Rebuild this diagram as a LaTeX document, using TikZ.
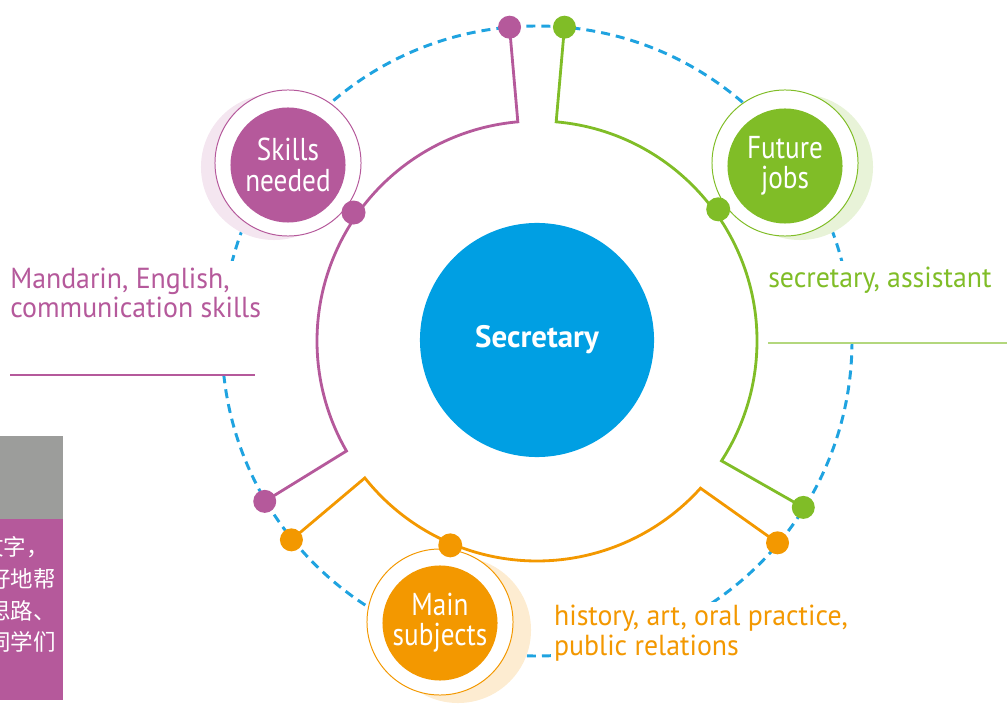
\documentclass[tikz,border=0pt]{standalone}
\usepackage{fontspec}
\setmainfont{PT Sans}[FakeStretch=0.96]
\newfontfamily\bubblefont{PT Sans}[FakeStretch=0.86]
\newfontfamily\hubfont{PT Sans}
\newfontfamily\cjkfont{Noto Sans CJK SC}
\usepackage{tikz}
\usetikzlibrary{calc}
\pgfdeclarelayer{background}
\pgfsetlayers{background,main}

\definecolor{skillpurple}{HTML}{B5599B}
\definecolor{jobgreen}{HTML}{80BD27}
\definecolor{subjorange}{HTML}{F39800}
\definecolor{secblue}{HTML}{009FE3}
\definecolor{ringblue}{HTML}{1FA3E0}
\definecolor{panelgray}{HTML}{9C9D9B}

\begin{document}
\begin{tikzpicture}[x=0.025cm, y=0.025cm,
  hub/.style={circle, fill=secblue, minimum size=5.85cm, inner sep=0pt, text=white, font=\hubfont\bfseries\fontsize{22}{24}\selectfont},
  bubble/.style={circle, fill=#1, minimum size=2.875cm, inner sep=0pt, text=white, align=center, font=\bubblefont\fontsize{22.5}{21.5}\selectfont},
  halo/.style={circle, draw=#1, line width=0.7pt, fill=white, minimum size=3.65cm, inner sep=0pt},
  glow/.style={circle, fill=#1, minimum size=3.65cm, inner sep=0pt},
  knob/.style={circle, fill=#1, minimum size=0.575cm, inner sep=0pt},
  wire/.style={draw=#1, line width=2pt, line join=miter},
  dashring/.style={draw=ringblue, line width=2.1pt, dash pattern=on 6.4pt off 4.3pt},
  note/.style={anchor=base west, align=left, inner sep=0pt, text=#1, font=\fontsize{20.6}{21.3}\selectfont},
  cjkline/.style={anchor=base west, inner sep=0pt, text=white, font=\cjkfont\fontsize{16}{16}\selectfont},
]
\useasboundingbox (0,0) rectangle (1007,712);
\coordinate (ctr) at (537,371);

% outer dashed ring
\begin{pgfonlayer}{background}
\draw[dashring] (ctr) circle[radius=315];
\end{pgfonlayer}

% side panel (cut off at the left edge)
\begin{scope}
\clip (0,0) rectangle (63,276);
\fill[panelgray] (0,193) rectangle (63,276);
\fill[skillpurple] (0,12) rectangle (63,193);
\node[cjkline] (cn1) at (-19,157) {文字，};
\node[cjkline] (cn2) at (-12,125) {好地帮};
\node[cjkline] (cn3) at (-12,93) {思路、};
\node[cjkline] (cn4) at (-12,62) {同学们};
\end{scope}

% labels
\coordinate (lruleW) at (10,337);
\coordinate (lruleE) at (255,337);
\coordinate (rruleW) at (768,369);
\coordinate (rruleE) at (1007,369);
\node[note=skillpurple] (mand) at (10,394) {Mandarin, English,\\communication skills};
\begin{pgfonlayer}{background}
\fill[white] ($(mand.north west)+(-2,6)$) rectangle ($(mand.east |- lruleE)+(2,3)$);
\end{pgfonlayer}
\draw[skillpurple, line width=1pt] (lruleW) -- (lruleE);
\node[note=jobgreen] (assist) at (768,424) {secretary, assistant};
\begin{pgfonlayer}{background}
\fill[white] ($(assist.north west)+(-2,6)$) rectangle ($(assist.east |- rruleE)+(2,1)$);
\end{pgfonlayer}
\draw[jobgreen!60, line width=1.4pt] (rruleW) -- (rruleE);
\node[note=subjorange, fill=white, inner sep=2] (hist) at (551,57) {history, art, oral practice,\\public relations};

% Skills needed
\node[glow=skillpurple!15] (skillsG) at (274,545) {};
\node[halo=skillpurple] (skillsH) at (288,549) {};
\node[bubble=skillpurple] (skills) at (288,547) {Skills\\needed};

% Future jobs
\node[glow=jobgreen!18] (jobsG) at (800,545) {};
\node[halo=jobgreen] (jobsH) at (785,549) {};
\node[bubble=jobgreen] (jobs) at (785,546) {Future\\jobs};

% Main subjects
\node[glow=subjorange!18] (subjG) at (458,82) {};
\node[halo=subjorange] (subjH) at (440,90) {};
\node[bubble=subjorange] (subj) at (440,89) {Main\\subjects};

% centre
\node[hub] (sec) at (537,372) {Secretary};

% dots
\node[knob=skillpurple] (pTop) at ($(ctr)+(95:315)$) {};
\node[knob=skillpurple] (pLeft) at ($(ctr)+(210.5:316)$) {};
\node[knob=skillpurple, minimum size=0.6cm] (pMid) at ($(ctr)+(145:224)$) {};
\node[knob=jobgreen] (gTop) at ($(ctr)+(85:315)$) {};
\node[knob=jobgreen] (gRight) at ($(ctr)+(-32:314)$) {};
\node[knob=jobgreen, minimum size=0.6cm] (gMid) at ($(ctr)+(36:224)$) {};
\node[knob=subjorange] (oLeft) at ($(ctr)+(219:316)$) {};
\node[knob=subjorange] (oRight) at ($(ctr)+(-40:314)$) {};
\node[knob=subjorange, minimum size=0.6cm] (oMid) at ($(ctr)+(247:222)$) {};

% wires
\begin{pgfonlayer}{background}
\draw[wire=skillpurple] (pTop.center) -- ($(ctr)+(95:220)$) arc[start angle=95, end angle=210, radius=220] -- (pLeft.center);
\draw[wire=jobgreen] (gTop.center) -- ($(ctr)+(85:220)$) arc[start angle=85, end angle=-33, radius=220] -- (gRight.center);
\draw[wire=subjorange] (oLeft.center) -- ($(ctr)+(218.5:220)$) arc[start angle=218.5, end angle=318, radius=220] -- (oRight.center);
\end{pgfonlayer}
\end{tikzpicture}
\end{document}
